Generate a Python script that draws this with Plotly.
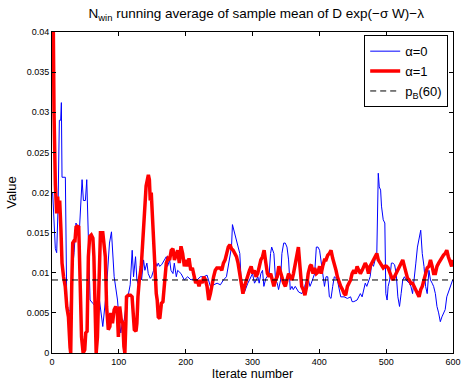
import plotly.graph_objects as go

# alpha = 0 (blue, thin)
iter_a0 = [1, 3, 5, 7, 9, 11, 13, 14, 15, 20, 21, 22, 24, 27, 29, 33, 36, 38, 41, 45, 47, 50, 52, 54, 57,
           61, 65, 68, 71, 76, 81, 86, 89, 93, 98, 100, 103, 105, 108, 110, 112.5, 115, 117, 120, 122,
           125, 127, 130, 132, 134, 137, 139, 142, 144, 147, 149, 152, 154, 157, 159, 161, 164, 169, 171,
           173, 176, 178, 181, 183, 186, 188, 193, 198, 203, 208, 212.5, 217, 222, 227, 232, 237, 242,
           247, 252, 256.5, 261, 264, 266, 268.6, 270, 272, 273.5, 276, 278.4, 281, 283, 285.7, 288,
           290.6, 293, 295.5, 298, 300, 303, 305, 308, 310, 312.5, 315, 317, 320, 322, 325, 327, 328.7,
           332, 334.5, 337, 339, 342, 344, 346.7, 349, 351.6, 354, 356.5, 359, 361, 364, 369, 374, 378,
           381, 383.3, 386, 388, 390.6, 393, 395.5, 398, 400.4, 402.8, 405, 407.7, 410, 412.6, 415,
           417.5, 420, 422.4, 425, 427, 432, 437, 442, 446.8, 449, 451.6, 456.5, 461.4, 464, 466.3,
           468.7, 471, 473.6, 476, 478.5, 481, 483.4, 486, 488.2, 489.7, 491.7, 493, 495.6, 498, 499.5,
           501.4, 503, 505.3, 507.8, 510, 512.6, 515, 517.5, 520, 522.4, 524.8, 527.3, 529.7, 534.6,
           537, 539.5, 542, 544.4, 546.8, 549.2, 551.7, 554, 556.6, 559, 561.4, 564, 566.3, 568.8, 571,
           573.6, 576, 578.5, 581, 583.4, 585.8, 588.3, 590.7, 593, 595.6, 598, 599.5]
val_a0 = [0.0200, 0.0166, 0.0130, 0.0125, 0.0180, 0.0290, 0.0290, 0.0312, 0.0219, 0.0219, 0.0150, 0.0070,
          0.0051, 0.0053, 0.0090, 0.0125, 0.0162, 0.0150, 0.0153, 0.0216, 0.0190, 0.0190, 0.0216, 0.0153,
          0.0066, 0.0062, 0.0058, 0.0052, 0.0066, 0.0033, 0.0074, 0.0137, 0.0151, 0.0095, 0.0066, 0.0045,
          0.0025, 0.0037, 0.0041, 0.0054, 0.0066, 0.0079, 0.0085, 0.0128, 0.0095, 0.0120, 0.0091, 0.0083,
          0.0108, 0.0091, 0.0116, 0.0103, 0.0112, 0.0099, 0.0093, 0.0095, 0.0103, 0.0116, 0.0108, 0.0112,
          0.0108, 0.0110, 0.0116, 0.0120, 0.0108, 0.0116, 0.0103, 0.0099, 0.0112, 0.0095, 0.0103, 0.0099,
          0.0091, 0.0095, 0.0091, 0.0093, 0.0091, 0.0095, 0.0095, 0.0097, 0.0083, 0.0085, 0.0087, 0.0085,
          0.0091, 0.0095, 0.0108, 0.0116, 0.0132, 0.0160, 0.0153, 0.0147, 0.0141, 0.0132, 0.0124, 0.0091,
          0.0079, 0.0076, 0.0083, 0.0087, 0.0091, 0.0095, 0.0099, 0.0087, 0.0091, 0.0095, 0.0087, 0.0099,
          0.0103, 0.0083, 0.0093, 0.0095, 0.0099, 0.0124, 0.0132, 0.0124, 0.0091, 0.0087, 0.0079, 0.0091,
          0.0124, 0.0137, 0.0137, 0.0132, 0.0116, 0.0079, 0.0083, 0.0079, 0.0083, 0.0076, 0.0074, 0.0083,
          0.0091, 0.0093, 0.0083, 0.0087, 0.0095, 0.0099, 0.0132, 0.0132, 0.0128, 0.0112, 0.0103, 0.0083,
          0.0095, 0.0095, 0.0070, 0.0068, 0.0083, 0.0095, 0.0093, 0.0091, 0.0070, 0.0070, 0.0068, 0.0070,
          0.0064, 0.0064, 0.0066, 0.0074, 0.0070, 0.0079, 0.0087, 0.0083, 0.0091, 0.0095, 0.0112, 0.0108,
          0.0116, 0.0124, 0.0224, 0.0207, 0.0203, 0.0183, 0.0166, 0.0162, 0.0074, 0.0066, 0.0083, 0.0091,
          0.0112, 0.0112, 0.0110, 0.0099, 0.0070, 0.0058, 0.0074, 0.0091, 0.0095, 0.0091, 0.0087, 0.0083,
          0.0074, 0.0091, 0.0112, 0.0132, 0.0141, 0.0153, 0.0124, 0.0108, 0.0083, 0.0074, 0.0103, 0.0091,
          0.0087, 0.0083, 0.0074, 0.0058, 0.0050, 0.0039, 0.0045, 0.0050, 0.0054, 0.0070, 0.0076, 0.0083,
          0.0087, 0.0091]

# alpha = 1 (red, thick)
iter_a1 = [0, 2, 3, 4, 5, 7, 8.5, 10, 11.5, 13.4, 15, 17.3, 19.8, 22.2, 24.6, 27, 28, 29.5, 31, 33, 34.4,
           36, 38, 40, 41.7, 44.2, 46.6, 49, 50.5, 52.5, 54.4, 56.4, 58.8, 61.2, 62.7, 64.6, 66.1, 68,
           69.5, 71, 72.5, 76, 78.3, 79.8, 81.7, 84.2, 86.6, 88, 90.5, 93, 95.4, 97.8, 99.3, 101.3, 103.7,
           106, 107.6, 109, 110.5, 111.5, 114, 117.4, 119.8, 121.3, 123.2, 125.7, 127, 128.6, 130.5,
           133.5, 135.4, 137, 139.3, 140.8, 142.7, 144.2, 145.7, 147, 148.5, 150.5, 152.5, 154, 156,
           157.4, 159, 161.3, 163.7, 166, 168.6, 171, 173.5, 176, 178.4, 181, 183.2, 185.7, 188, 190.5,
           193, 195.5, 198, 200, 202.8, 205, 207.6, 210, 212.5, 215, 217.4, 220, 222.3, 224.7, 227.2,
           229.6, 232, 234.5, 237, 239.4, 241.8, 244.3, 246.7, 249, 251.6, 254, 256.5, 259, 261.3,
           263.8, 266.2, 268.6, 271, 273.5, 276, 278.4, 280.8, 283, 285.7, 288, 290.6, 293, 295.5, 298,
           300.4, 302.8, 305.2, 307.7, 310, 312.5, 315, 317.4, 320, 322.3, 324.8, 327.2, 329.6, 332,
           334.5, 337, 339.4, 342, 344.3, 346.7, 349.2, 351.6, 354, 356.5, 359, 361.3, 363.8, 366.2,
           368.7, 371, 373.6, 376, 378.4, 381, 383.3, 386, 388, 390.6, 393, 395.5, 398, 400.4, 402.8,
           405, 407.7, 410, 412.6, 415, 417.5, 420, 422.4, 425, 427, 429.6, 432, 434.6, 437, 439.4, 442,
           444.3, 446.8, 449, 451.6, 454, 456.5, 459, 461.4, 464, 466.3, 468.7, 471, 473.6, 476, 478.5,
           481, 483.4, 486, 488.2, 490.6, 493, 495.6, 498, 500.4, 503, 505.3, 507.8, 510, 512.6, 515,
           517.5, 520, 522.4, 524.8, 527.3, 529.7, 532, 534.6, 537, 539.5, 542, 544.4, 546.8, 549.2,
           551.7, 554, 556.6, 559, 561.4, 564, 566.3, 568.8, 571, 573.6, 576, 578.5, 581, 583.4, 585.8,
           588.3, 590.7, 593, 595.6, 598, 600]
val_a1 = [0.0450, 0.0400, 0.0300, 0.0228, 0.0210, 0.0174, 0.0195, 0.0174, 0.0190, 0.0153, 0.0112, 0.0095,
          0.0083, 0.0057, 0.0045, 0.0007, 0.0000, 0.0083, 0.0137, 0.0140, 0.0140, 0.0157, 0.0158, 0.0157,
          0.0091, 0.0020, 0.0000, 0.0004, 0.0025, 0.0027, 0.0120, 0.0145, 0.0147, 0.0143, 0.0120, 0.0050,
          0.0000, 0.0020, 0.0058, 0.0128, 0.0150, 0.0150, 0.0128, 0.0120, 0.0058, 0.0029, 0.0033, 0.0050,
          0.0037, 0.0054, 0.0058, 0.0050, 0.0020, 0.0058, 0.0041, 0.0037, 0.0008, 0.0000, 0.0037, 0.0070,
          0.0072, 0.0072, 0.0070, 0.0045, 0.0029, 0.0027, 0.0037, 0.0070, 0.0090, 0.0107, 0.0140, 0.0160,
          0.0187, 0.0208, 0.0216, 0.0222, 0.0216, 0.0190, 0.0200, 0.0166, 0.0120, 0.0090, 0.0074, 0.0066,
          0.0045, 0.0043, 0.0062, 0.0064, 0.0091, 0.0112, 0.0118, 0.0116, 0.0128, 0.0130, 0.0116, 0.0124,
          0.0128, 0.0112, 0.0133, 0.0124, 0.0108, 0.0116, 0.0108, 0.0118, 0.0103, 0.0106, 0.0095, 0.0087,
          0.0091, 0.0083, 0.0091, 0.0087, 0.0095, 0.0091, 0.0083, 0.0066, 0.0074, 0.0087, 0.0095, 0.0103,
          0.0106, 0.0106, 0.0106, 0.0103, 0.0112, 0.0116, 0.0124, 0.0132, 0.0135, 0.0130, 0.0128, 0.0124,
          0.0120, 0.0112, 0.0099, 0.0087, 0.0074, 0.0083, 0.0091, 0.0099, 0.0103, 0.0108, 0.0099, 0.0103,
          0.0095, 0.0099, 0.0108, 0.0116, 0.0120, 0.0128, 0.0112, 0.0099, 0.0095, 0.0099, 0.0091, 0.0083,
          0.0091, 0.0095, 0.0108, 0.0099, 0.0091, 0.0087, 0.0083, 0.0091, 0.0099, 0.0095, 0.0091, 0.0099,
          0.0112, 0.0124, 0.0132, 0.0108, 0.0083, 0.0079, 0.0072, 0.0083, 0.0099, 0.0108, 0.0110, 0.0099,
          0.0106, 0.0099, 0.0101, 0.0108, 0.0099, 0.0108, 0.0116, 0.0116, 0.0122, 0.0124, 0.0128, 0.0118,
          0.0112, 0.0103, 0.0095, 0.0087, 0.0083, 0.0079, 0.0074, 0.0072, 0.0083, 0.0087, 0.0091, 0.0099,
          0.0103, 0.0099, 0.0108, 0.0103, 0.0099, 0.0103, 0.0108, 0.0112, 0.0108, 0.0099, 0.0108, 0.0112,
          0.0116, 0.0120, 0.0124, 0.0116, 0.0112, 0.0108, 0.0106, 0.0108, 0.0108, 0.0106, 0.0099, 0.0095,
          0.0091, 0.0095, 0.0099, 0.0103, 0.0108, 0.0112, 0.0116, 0.0108, 0.0099, 0.0093, 0.0091, 0.0087,
          0.0087, 0.0083, 0.0079, 0.0074, 0.0070, 0.0079, 0.0083, 0.0091, 0.0099, 0.0106, 0.0108, 0.0116,
          0.0108, 0.0099, 0.0099, 0.0108, 0.0112, 0.0116, 0.0118, 0.0122, 0.0124, 0.0128, 0.0120, 0.0112,
          0.0108, 0.0116]

pB_value = 0.0091
x_range = [0, 600]
y_range = [0, 0.04]
x_ticks = [0, 100, 200, 300, 400, 500, 600]
y_ticks = [0, 0.005, 0.01, 0.015, 0.02, 0.025, 0.03, 0.035, 0.04]
y_tick_labels = ["0", "0.005", "0.01", "0.015", "0.02", "0.025", "0.03", "0.035", "0.04"]

fig = go.Figure()
fig.add_trace(go.Scatter(x=iter_a0, y=val_a0, mode="lines", name="α=0",
                         line=dict(color="#0000ff", width=1)))
fig.add_trace(go.Scatter(x=iter_a1, y=val_a1, mode="lines", name="α=1",
                         line=dict(color="#ff0000", width=3.5)))
fig.add_trace(go.Scatter(x=x_range, y=[pB_value, pB_value], mode="lines", name="p<sub>B</sub>(60)",
                         line=dict(color="#000000", width=1, dash="6px,4px")))

axis_common = dict(showline=True, linecolor="black", linewidth=1, mirror="ticks",
                   ticks="inside", ticklen=4, tickcolor="black", showgrid=False, zeroline=False,
                   ticklabeloverflow="allow",
                   tickfont=dict(family="Liberation Sans, Arial", size=9, color="black"))

fig.update_layout(
    width=465, height=383,
    margin=dict(l=52, r=4, t=32, b=30),
    paper_bgcolor="white", plot_bgcolor="white",
    font=dict(family="Liberation Sans, Arial", color="black"),
    title=dict(text="N<sub>win</sub> running average of sample mean of D exp(−σ W)−λ",
               x=0.551, xanchor="center", y=0.978, yanchor="top",
               font=dict(size=13.5, color="black")),
    xaxis=dict(range=x_range, tickvals=x_ticks, **axis_common,
               title=dict(text="Iterate number", font=dict(size=12.5), standoff=2)),
    yaxis=dict(range=y_range, tickvals=y_ticks, ticktext=y_tick_labels, **axis_common,
               title=dict(text="Value", font=dict(size=13), standoff=7)),
    legend=dict(x=0.988, y=0.99, xanchor="right", yanchor="top",
                bgcolor="white", bordercolor="black", borderwidth=1,
                font=dict(size=13), tracegroupgap=0, itemwidth=30),
    showlegend=True,
)

fig.write_html("out.html")
